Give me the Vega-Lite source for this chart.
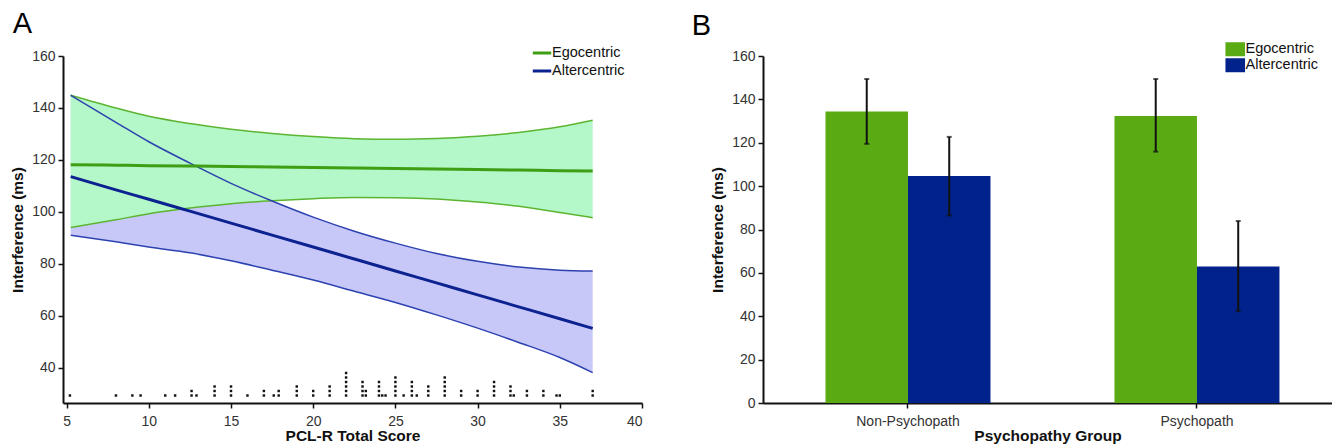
{
  "$schema": "https://vega.github.io/schema/vega-lite/v6.json",
  "background": "white",
  "padding": {"left": 10, "top": 10, "right": 0, "bottom": 0},
  "spacing": 121,
  "bounds": "flush",
  "resolve": {"scale": {"color": "independent"}, "legend": {"color": "independent"}},
  "config": {
    "font": "Liberation Sans",
    "view": {"stroke": null},
    "axis": {"domainColor": "#111", "domainWidth": 2, "tickColor": "#111", "tickWidth": 1.5, "tickSize": 5, "labelFont": "Liberation Sans", "labelFontSize": 14, "labelColor": "#333", "titleFont": "Liberation Sans", "titleFontSize": 15.5, "titleFontWeight": "bold", "titleColor": "#111", "grid": false},
    "axisX": {"labelPadding": 6, "titlePadding": 0},
    "axisY": {"labelPadding": 3, "titlePadding": 6},
    "legend": {"labelFont": "Liberation Sans", "labelFontSize": 14.5, "labelColor": "#111", "padding": 0},
    "title": {"font": "Liberation Sans", "fontSize": 29, "fontWeight": "normal", "color": "#000", "anchor": "start", "frame": "bounds"}
  },
  "hconcat": [
    {
      "width": 579,
      "height": 347,
      "title": {"text": "A", "offset": 3, "dx": 2},
      "layer": [
        {
          "data": {"values": [
            {"x": 5.25, "cond": "Egocentric", "fit": 118.2, "lo": 94.0, "hi": 144.9},
            {"x": 8, "cond": "Egocentric", "fit": 118.0, "lo": 97.0, "hi": 140.0},
            {"x": 10, "cond": "Egocentric", "fit": 117.8, "lo": 99.3, "hi": 136.8},
            {"x": 12.5, "cond": "Egocentric", "fit": 117.7, "lo": 101.5, "hi": 134.0},
            {"x": 15, "cond": "Egocentric", "fit": 117.5, "lo": 103.2, "hi": 131.8},
            {"x": 17.5, "cond": "Egocentric", "fit": 117.3, "lo": 104.3, "hi": 130.2},
            {"x": 20, "cond": "Egocentric", "fit": 117.1, "lo": 105.1, "hi": 129.0},
            {"x": 22.5, "cond": "Egocentric", "fit": 116.9, "lo": 105.6, "hi": 128.2},
            {"x": 25, "cond": "Egocentric", "fit": 116.7, "lo": 105.5, "hi": 128.0},
            {"x": 27.5, "cond": "Egocentric", "fit": 116.5, "lo": 105.0, "hi": 128.3},
            {"x": 30, "cond": "Egocentric", "fit": 116.3, "lo": 103.8, "hi": 129.1},
            {"x": 32.5, "cond": "Egocentric", "fit": 116.1, "lo": 102.2, "hi": 130.6},
            {"x": 35, "cond": "Egocentric", "fit": 115.9, "lo": 99.8, "hi": 132.8},
            {"x": 37, "cond": "Egocentric", "fit": 115.8, "lo": 97.8, "hi": 135.3},
            {"x": 5.25, "cond": "Altercentric", "fit": 113.6, "lo": 91.0, "hi": 144.9},
            {"x": 8, "cond": "Altercentric", "fit": 108.5, "lo": 88.5, "hi": 134.5},
            {"x": 10, "cond": "Altercentric", "fit": 104.9, "lo": 86.5, "hi": 127.0},
            {"x": 12.5, "cond": "Altercentric", "fit": 100.3, "lo": 84.3, "hi": 118.8},
            {"x": 15, "cond": "Altercentric", "fit": 95.7, "lo": 81.2, "hi": 111.0},
            {"x": 17.5, "cond": "Altercentric", "fit": 91.1, "lo": 77.6, "hi": 104.2},
            {"x": 20, "cond": "Altercentric", "fit": 86.5, "lo": 73.8, "hi": 98.0},
            {"x": 22.5, "cond": "Altercentric", "fit": 81.9, "lo": 69.5, "hi": 92.6},
            {"x": 25, "cond": "Altercentric", "fit": 77.3, "lo": 65.2, "hi": 88.0},
            {"x": 27.5, "cond": "Altercentric", "fit": 72.7, "lo": 60.4, "hi": 84.0},
            {"x": 30, "cond": "Altercentric", "fit": 68.1, "lo": 55.3, "hi": 81.0},
            {"x": 32.5, "cond": "Altercentric", "fit": 63.5, "lo": 49.8, "hi": 78.8},
            {"x": 35, "cond": "Altercentric", "fit": 58.9, "lo": 44.0, "hi": 77.6},
            {"x": 37, "cond": "Altercentric", "fit": 55.2, "lo": 38.2, "hi": 77.3}
          ]},
          "encoding": {
            "x": {"field": "x", "type": "quantitative", "scale": {"domain": [4.78, 40], "nice": false, "zero": false}, "axis": {"title": "PCL-R Total Score", "values": [5, 10, 15, 20, 25, 30, 35, 40]}}
          },
          "layer": [
            {
              "transform": [{"filter": "datum.cond === 'Altercentric'"}],
              "mark": {"type": "area", "color": "#c8c8f8", "opacity": 1, "interpolate": "monotone"},
              "encoding": {
                "y": {"field": "lo", "type": "quantitative", "title": "Interference (ms)", "scale": {"domain": [26.5, 160], "nice": false, "zero": false}, "axis": {"values": [40, 60, 80, 100, 120, 140, 160]}},
                "y2": {"field": "hi"}
              }
            },
            {
              "transform": [{"filter": "datum.cond === 'Egocentric'"}],
              "mark": {"type": "area", "color": "#b4f7c8", "opacity": 1, "interpolate": "monotone"},
              "encoding": {
                "y": {"field": "lo", "type": "quantitative", "title": "Interference (ms)", "scale": {"domain": [26.5, 160], "nice": false, "zero": false}},
                "y2": {"field": "hi"}
              }
            },
            {
              "transform": [{"filter": "datum.cond === 'Egocentric'"}],
              "mark": {"type": "line", "strokeWidth": 1.5, "color": "#5cb531", "interpolate": "monotone"},
              "encoding": {"y": {"field": "lo", "type": "quantitative", "title": "Interference (ms)", "scale": {"domain": [26.5, 160], "nice": false, "zero": false}}}
            },
            {
              "transform": [{"filter": "datum.cond === 'Egocentric'"}],
              "mark": {"type": "line", "strokeWidth": 1.5, "color": "#5cb531", "interpolate": "monotone"},
              "encoding": {"y": {"field": "hi", "type": "quantitative", "title": "Interference (ms)", "scale": {"domain": [26.5, 160], "nice": false, "zero": false}}}
            },
            {
              "transform": [{"filter": "datum.cond === 'Altercentric'"}],
              "mark": {"type": "line", "strokeWidth": 1.5, "color": "#2c42b0", "interpolate": "monotone"},
              "encoding": {"y": {"field": "lo", "type": "quantitative", "title": "Interference (ms)", "scale": {"domain": [26.5, 160], "nice": false, "zero": false}}}
            },
            {
              "transform": [{"filter": "datum.cond === 'Altercentric'"}],
              "mark": {"type": "line", "strokeWidth": 1.5, "color": "#2c42b0", "interpolate": "monotone"},
              "encoding": {"y": {"field": "hi", "type": "quantitative", "title": "Interference (ms)", "scale": {"domain": [26.5, 160], "nice": false, "zero": false}}}
            },
            {
              "mark": {"type": "line", "strokeWidth": 3, "interpolate": "monotone"},
              "encoding": {
                "y": {"field": "fit", "type": "quantitative", "title": "Interference (ms)", "scale": {"domain": [26.5, 160], "nice": false, "zero": false}},
                "color": {"field": "cond", "type": "nominal", "scale": {"domain": ["Egocentric", "Altercentric"], "range": ["#3e9f14", "#0c2290"]}, "legend": {"title": null, "orient": "none", "legendX": 468, "legendY": -14, "symbolType": "stroke", "symbolSize": 340, "symbolStrokeWidth": 3, "rowPadding": -2, "labelOffset": -1}}
              }
            }
          ]
        },
        {
          "data": {"values": [
            {"score": 5.2, "one": 1},
            {"score": 8, "one": 1},
            {"score": 9, "one": 1},
            {"score": 9.5, "one": 1},
            {"score": 11, "one": 1},
            {"score": 11.6, "one": 1},
            {"score": 12.6, "one": 1}, {"score": 12.6, "one": 1},
            {"score": 12.9, "one": 1},
            {"score": 14, "one": 1}, {"score": 14, "one": 1}, {"score": 14, "one": 1},
            {"score": 15, "one": 1}, {"score": 15, "one": 1}, {"score": 15, "one": 1},
            {"score": 16, "one": 1},
            {"score": 17, "one": 1}, {"score": 17, "one": 1},
            {"score": 17.6, "one": 1},
            {"score": 17.9, "one": 1}, {"score": 17.9, "one": 1},
            {"score": 19, "one": 1}, {"score": 19, "one": 1}, {"score": 19, "one": 1},
            {"score": 20, "one": 1}, {"score": 20, "one": 1},
            {"score": 21, "one": 1}, {"score": 21, "one": 1}, {"score": 21, "one": 1},
            {"score": 22, "one": 1}, {"score": 22, "one": 1}, {"score": 22, "one": 1}, {"score": 22, "one": 1}, {"score": 22, "one": 1}, {"score": 22, "one": 1},
            {"score": 23, "one": 1}, {"score": 23, "one": 1}, {"score": 23, "one": 1}, {"score": 23, "one": 1},
            {"score": 23.2, "one": 1}, {"score": 23.2, "one": 1},
            {"score": 24, "one": 1}, {"score": 24, "one": 1}, {"score": 24, "one": 1}, {"score": 24, "one": 1},
            {"score": 24.2, "one": 1},
            {"score": 24.4, "one": 1},
            {"score": 25, "one": 1}, {"score": 25, "one": 1}, {"score": 25, "one": 1}, {"score": 25, "one": 1}, {"score": 25, "one": 1},
            {"score": 25.5, "one": 1},
            {"score": 26, "one": 1}, {"score": 26, "one": 1}, {"score": 26, "one": 1}, {"score": 26, "one": 1},
            {"score": 26.3, "one": 1},
            {"score": 27, "one": 1}, {"score": 27, "one": 1}, {"score": 27, "one": 1},
            {"score": 28, "one": 1}, {"score": 28, "one": 1}, {"score": 28, "one": 1}, {"score": 28, "one": 1}, {"score": 28, "one": 1},
            {"score": 29, "one": 1}, {"score": 29, "one": 1},
            {"score": 30, "one": 1}, {"score": 30, "one": 1},
            {"score": 31, "one": 1}, {"score": 31, "one": 1}, {"score": 31, "one": 1}, {"score": 31, "one": 1},
            {"score": 32, "one": 1}, {"score": 32, "one": 1}, {"score": 32, "one": 1},
            {"score": 32.2, "one": 1},
            {"score": 33, "one": 1}, {"score": 33, "one": 1},
            {"score": 34, "one": 1}, {"score": 34, "one": 1},
            {"score": 34.8, "one": 1},
            {"score": 35, "one": 1},
            {"score": 37, "one": 1}, {"score": 37, "one": 1}
          ]},
          "mark": {"type": "square", "size": 6, "color": "#111", "opacity": 1, "filled": true},
          "encoding": {
            "x": {"field": "score", "type": "quantitative", "scale": {"domain": [4.78, 40], "nice": false, "zero": false}, "axis": {"title": "PCL-R Total Score", "values": [5, 10, 15, 20, 25, 30, 35, 40]}},
            "y": {"field": "one", "type": "quantitative", "stack": "zero", "scale": {"domain": [-0.667, 76.44], "nice": false, "zero": false}, "axis": null}
          }
        }
      ],
      "resolve": {"scale": {"y": "independent"}}
    },
    {
      "width": 569,
      "height": 347,
      "title": {"text": "B", "offset": 1, "dx": -19},
      "data": {"values": [
        {"group": "Non-Psychopath", "cond": "Egocentric", "mean": 134.4, "lo": 119.5, "hi": 149.4},
        {"group": "Non-Psychopath", "cond": "Altercentric", "mean": 104.7, "lo": 86.5, "hi": 122.7},
        {"group": "Psychopath", "cond": "Egocentric", "mean": 132.3, "lo": 115.9, "hi": 149.4},
        {"group": "Psychopath", "cond": "Altercentric", "mean": 62.9, "lo": 42.4, "hi": 83.9}
      ]},
      "encoding": {
        "x": {"field": "group", "type": "nominal", "sort": ["Non-Psychopath", "Psychopath"], "scale": {"paddingInner": 0.0655, "paddingOuter": 0.01723, "align": 1}, "axis": {"title": "Psychopathy Group", "labelAngle": 0}},
        "xOffset": {"field": "cond", "type": "nominal", "sort": ["Egocentric", "Altercentric"], "scale": {"domain": ["Egocentric", "Altercentric"], "paddingInner": 0, "paddingOuter": 0.637}}
      },
      "layer": [
        {
          "mark": {"type": "bar"},
          "encoding": {
            "y": {"field": "mean", "type": "quantitative", "title": "Interference (ms)", "scale": {"domain": [0, 160], "nice": false}, "axis": {"values": [0, 20, 40, 60, 80, 100, 120, 140, 160]}},
            "color": {"field": "cond", "type": "nominal", "scale": {"domain": ["Egocentric", "Altercentric"], "range": ["#5aaa14", "#00228a"]}, "legend": {"title": null, "orient": "none", "legendX": 465, "legendY": -14, "symbolType": "M-1.4,-1H1.4V1H-1.4Z", "symbolSize": 196, "symbolStrokeWidth": 0, "symbolOpacity": 1, "rowPadding": 0, "labelOffset": 3}}
          }
        },
        {
          "mark": {"type": "rule", "color": "#111", "strokeWidth": 2},
          "encoding": {
            "y": {"field": "lo", "type": "quantitative", "title": "Interference (ms)"},
            "y2": {"field": "hi"}
          }
        },
        {
          "mark": {"type": "tick", "color": "#111", "thickness": 2, "size": 5},
          "encoding": {"y": {"field": "lo", "type": "quantitative", "title": "Interference (ms)"}}
        },
        {
          "mark": {"type": "tick", "color": "#111", "thickness": 2, "size": 5},
          "encoding": {"y": {"field": "hi", "type": "quantitative", "title": "Interference (ms)"}}
        }
      ]
    }
  ]
}
